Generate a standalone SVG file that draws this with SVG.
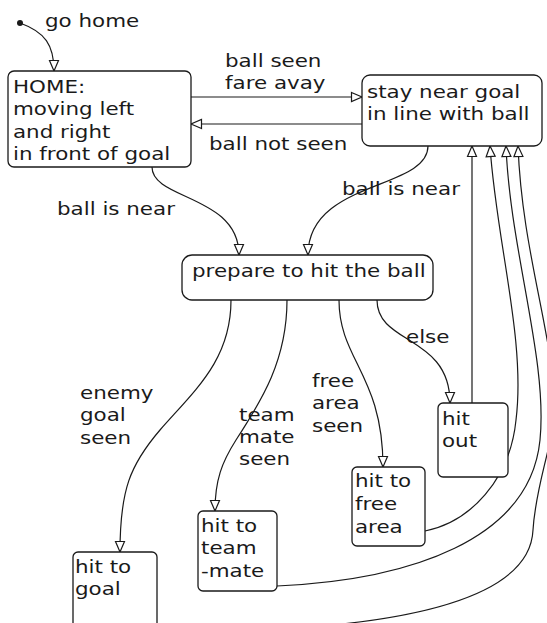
<svg xmlns="http://www.w3.org/2000/svg" width="547" height="623" viewBox="0 0 547 623">
<defs>
<marker id="arr" markerWidth="14" markerHeight="12" refX="12" refY="6" orient="auto" markerUnits="userSpaceOnUse">
<path d="M1.5,1.5 L12,6 L1.5,10.5 Z" fill="#fff" stroke="#1a1a1a" stroke-width="1.2"/>
</marker>
<style>
.box{fill:#fff;stroke:#1a1a1a;stroke-width:1.3}
.c{fill:none;stroke:#1a1a1a;stroke-width:1.2;marker-end:url(#arr)}
.t{font-family:"DejaVu Sans","Liberation Sans",sans-serif;font-size:18px;fill:#1a1a1a}
</style>
</defs>
<rect width="547" height="623" fill="#fff"/>

<g id="connectors">
<circle cx="20" cy="23" r="3" fill="#1a1a1a"/>
<path class="c" d="M20,23 C45,32 54,45 54,71"/>
<path class="c" d="M191,97 L362,97"/>
<path class="c" d="M362,124 L191,124"/>
<path class="c" d="M152,167 C152,200 239,195 239,255"/>
<path class="c" d="M428,146 C428,190 308,180 308,255"/>
<path class="c" d="M231,300 C231,360 195,390 160,430 C130,465 120,490 120,552"/>
<path class="c" d="M287,300 C287,360 262,400 236,440 C222,462 215,480 215,511"/>
<path class="c" d="M339,300 C339,360 383,375 383,467"/>
<path class="c" d="M377,300 C377,345 450,335 450,403"/>
<path class="c" d="M472,403 L472,146"/>
<path class="c" d="M425,531 C470,522 510,480 516,420 C526,340 496,240 490,146"/>
<path class="c" d="M277,586 C410,580 530,540 540,440 C548,360 510,250 506,146"/>
<path class="c" d="M157,632 C400,633 530,600 533,530 C536,480 556,440 554,400 C552,330 522,250 518,146"/>
<text class="t" transform="translate(45,27) scale(1.19,1)">go home</text>
<text class="t" transform="translate(225,67) scale(1.19,1)"><tspan x="0">ball seen</tspan><tspan x="0" dy="22.5">fare avay</tspan></text>
<text class="t" transform="translate(209,150) scale(1.19,1)">ball not seen</text>
<text class="t" transform="translate(57,215) scale(1.19,1)">ball is near</text>
<text class="t" transform="translate(342,195) scale(1.19,1)">ball is near</text>
<text class="t" transform="translate(406,343) scale(1.19,1)">else</text>
<text class="t" transform="translate(80,399) scale(1.19,1)"><tspan x="0">enemy</tspan><tspan x="0" dy="22.5">goal</tspan><tspan x="0" dy="22.5">seen</tspan></text>
<text class="t" transform="translate(239,421) scale(1.19,1)"><tspan x="0">team</tspan><tspan x="0" dy="22">mate</tspan><tspan x="0" dy="22">seen</tspan></text>
<text class="t" transform="translate(312,387) scale(1.19,1)"><tspan x="0">free</tspan><tspan x="0" dy="22.5">area</tspan><tspan x="0" dy="22.5">seen</tspan></text>
</g>

<g id="home">
<rect class="box" x="8" y="71" width="183" height="96" rx="6"/>
<text class="t" transform="translate(13,93) scale(1.19,1)"><tspan x="0">HOME:</tspan><tspan x="0" dy="22.4">moving left</tspan><tspan x="0" dy="22.4">and right</tspan><tspan x="0" dy="22.4">in front of goal</tspan></text>
</g>

<g id="stay">
<rect class="box" x="362" y="75" width="180" height="71" rx="8"/>
<text class="t" transform="translate(367,98) scale(1.19,1)"><tspan x="0">stay near goal</tspan><tspan x="0" dy="22">in line with ball</tspan></text>
</g>

<g id="prepare">
<rect class="box" x="182" y="255" width="251" height="45" rx="10"/>
<text class="t" transform="translate(192,277) scale(1.19,1)">prepare to hit the ball</text>
</g>

<g id="hitout">
<rect class="box" x="438" y="403" width="70" height="74" rx="5"/>
<text class="t" transform="translate(442,425) scale(1.19,1)"><tspan x="0">hit</tspan><tspan x="0" dy="22">out</tspan></text>
</g>

<g id="hitfree">
<rect class="box" x="352" y="467" width="73" height="79" rx="5"/>
<text class="t" transform="translate(355,487) scale(1.19,1)"><tspan x="0">hit to</tspan><tspan x="0" dy="23">free</tspan><tspan x="0" dy="23">area</tspan></text>
</g>

<g id="hitmate">
<rect class="box" x="198" y="511" width="79" height="80" rx="5"/>
<text class="t" transform="translate(201,532) scale(1.19,1)"><tspan x="0">hit to</tspan><tspan x="0" dy="22">team</tspan><tspan x="0" dy="23">-mate</tspan></text>
</g>

<g id="hitgoal">
<rect class="box" x="73" y="552" width="84" height="90" rx="5"/>
<text class="t" transform="translate(75,573) scale(1.19,1)"><tspan x="0">hit to</tspan><tspan x="0" dy="22">goal</tspan></text>
</g>
</svg>
